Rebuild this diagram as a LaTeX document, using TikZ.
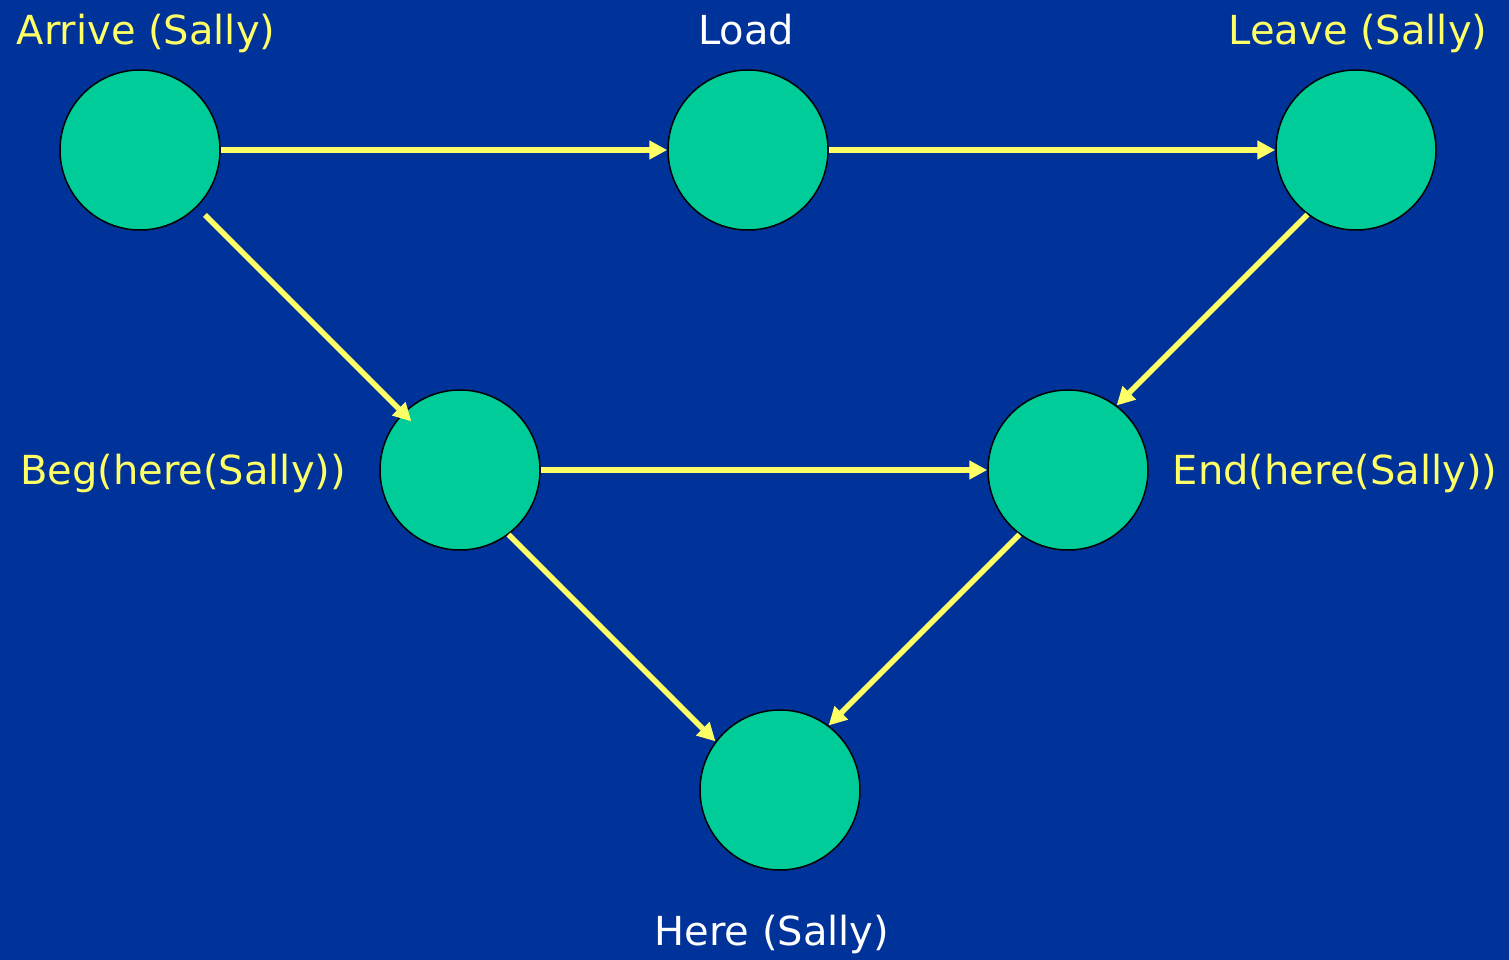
\documentclass[tikz,border=0pt]{standalone}
\usepackage{fontspec}
\setmainfont{DejaVu Sans}
\usetikzlibrary{arrows.meta}
\definecolor{bgblue}{HTML}{003399}
\definecolor{nodegreen}{HTML}{00CC99}
\definecolor{lblyellow}{HTML}{FFFF66}
\tikzset{
  event/.style={circle, draw=black, line width=1.5pt, fill=nodegreen, minimum size=160pt, inner sep=0pt},
  lbl/.style={text=lblyellow, font=\fontsize{40}{48}\selectfont, anchor=base, inner sep=0pt},
  wlbl/.style={lbl, text=white},
  link/.style={draw=lblyellow, line width=5.5pt, -{Triangle[length=18pt,width=18pt]}}
}
\begin{document}
\begin{tikzpicture}[x=1pt,y=-1pt]
\fill[bgblue] (0,0) rectangle (1509,960);
\useasboundingbox (0,0) rectangle (1509,960);
\node[event] (arrive) at (140,150) {};
\node[event] (load) at (748,150) {};
\node[event] (leave) at (1356,150) {};
\node[event] (beg) at (460,470) {};
\node[event] (end) at (1068,470) {};
\node[event] (here) at (780,790) {};
\node[lbl] (larrive) at (146,45) {Arrive (Sally)};
\node[wlbl] (lload) at (746,45) {Load};
\node[lbl] (lleave) at (1358,45) {Leave (Sally)};
\node[lbl] (lbeg) at (183,484) {Beg(here(Sally))};
\node[lbl] (lend) at (1335,484) {End(here(Sally))};
\node[wlbl] (lhere) at (772,945) {Here (Sally)};
\draw[link] (arrive) -- (load);
\draw[link] (load) -- (leave);
\draw[link, shorten <=11pt, shorten >=-12pt] (arrive) -- (beg);
\draw[link] (leave.233) -- (end.53);
\draw[link] (beg) -- (end);
\draw[link] (beg.307) -- (here.143.5);
\draw[link] (end.233) -- (here.53);
\end{tikzpicture}
\end{document}
